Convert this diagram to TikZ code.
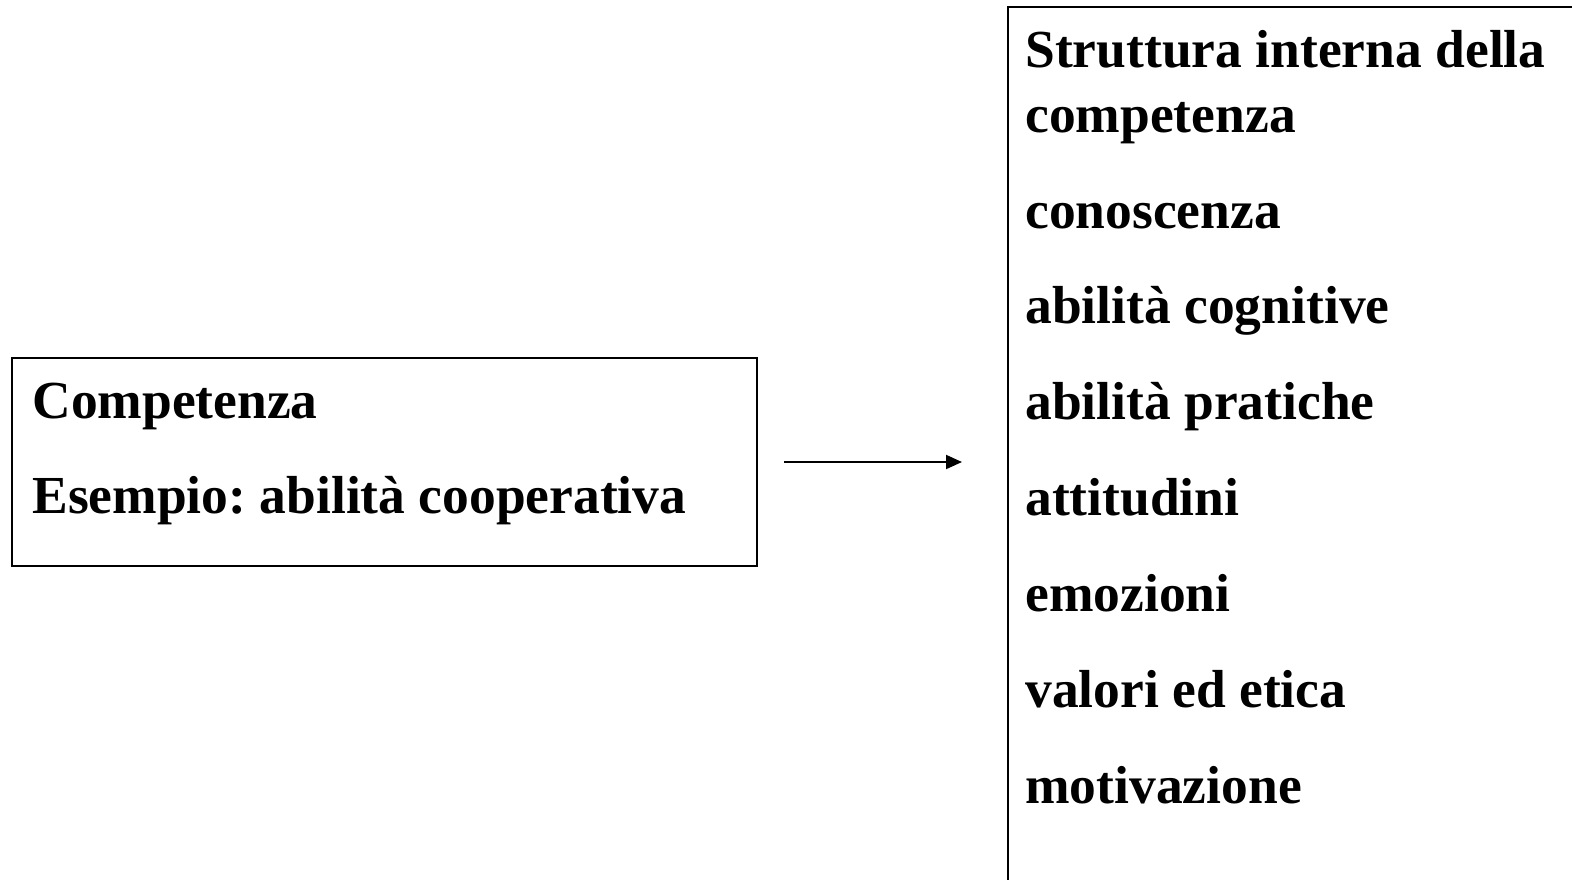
\documentclass[tikz,border=0pt]{standalone}
\usepackage{fontspec}
\setmainfont{Liberation Serif}
\usetikzlibrary{arrows.meta}
\frenchspacing
\begin{document}
\begin{tikzpicture}[x=0.5pt,y=-0.5pt,
  boxline/.style={draw=black, line width=1pt, rectangle, inner sep=0pt},
  txt/.style={anchor=base west, inner sep=0pt, font=\fontsize{26.75pt}{30pt}\selectfont\bfseries},
  conn/.style={line width=1pt, -{Triangle[length=8pt,width=7pt]}}]
\useasboundingbox (0,0) rectangle (1572,879);
\clip (0,0) rectangle (1572,879);
\node[boxline, minimum width=372.5pt, minimum height=104pt, anchor=north west] (lbox) at (11,357) {};
\node[boxline, minimum width=340pt, minimum height=470pt, anchor=north west] (rbox) at (1007,6) {};
\node[txt] (l1) at (32,418) {Competenza};
\node[txt] (l2) at (32,513) {Esempio: abilità cooperativa};
\node[txt] (r1) at (1025,67) {Struttura interna della};
\node[txt] (r2) at (1025,132) {competenza};
\node[txt] (r3) at (1025,228) {conoscenza};
\node[txt] (r4) at (1025,323) {abilità cognitive};
\node[txt] (r5) at (1025,419) {abilità pratiche};
\node[txt] (r6) at (1025,515) {attitudini};
\node[txt] (r7) at (1025,611) {emozioni};
\node[txt] (r8) at (1025,707) {valori ed etica};
\node[txt] (r9) at (1025,803) {motivazione};
\draw[conn, shorten <=13pt, shorten >=22.5pt] (lbox.east) -- (lbox.east -| rbox.west);
\end{tikzpicture}
\end{document}
